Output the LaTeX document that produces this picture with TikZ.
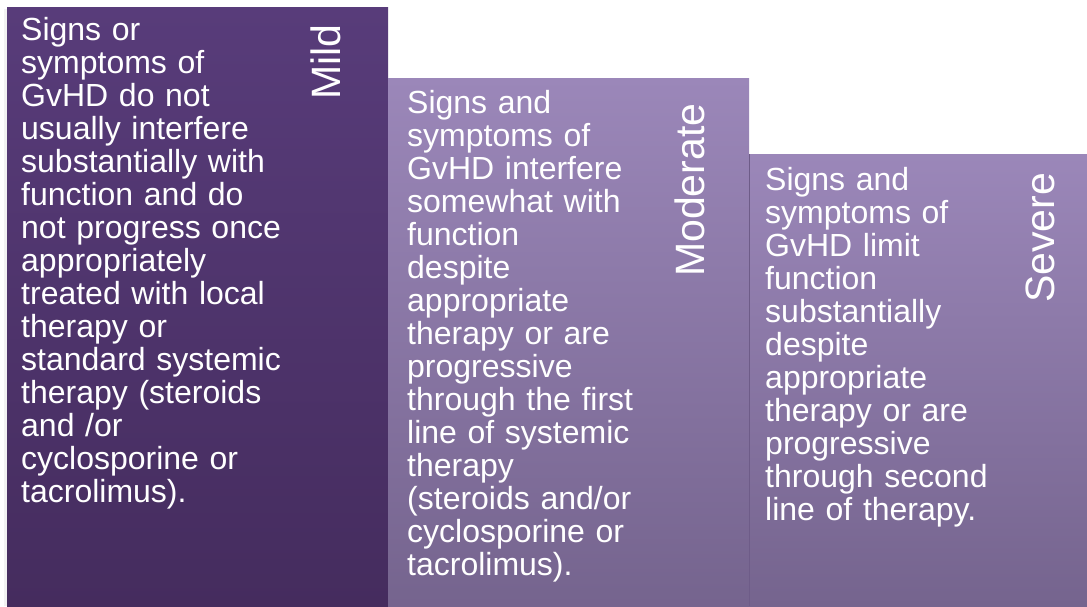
\documentclass[tikz,border=0pt]{standalone}
\usepackage{fontspec}
\setmainfont{Liberation Sans}
\usepackage{tikz}

\definecolor{mildtop}{HTML}{583C7A}
\definecolor{mildbot}{HTML}{452C5E}
\definecolor{gradetop}{HTML}{9B87B9}
\definecolor{gradebot}{HTML}{75648E}
\definecolor{edgeline}{HTML}{6E5C88}

\begin{document}
\begin{tikzpicture}[x=1pt,y=-1pt,
  body/.style={anchor=base west,inner sep=0pt,text=white,text width=320pt,
    align=left,font=\fontsize{32}{33}\selectfont},
  grade/.style={anchor=base west,inner sep=0pt,text=white,rotate=90,
    font=\fontsize{41}{48}\selectfont}]
\useasboundingbox (0,0) rectangle (1087,606);
% the three columns
\fill[black!5] (4,9) rectangle (7,606);
\shade[top color=mildtop,bottom color=mildbot] (7,7) rectangle (388,606);
\shade[top color=gradetop,bottom color=gradebot] (388,78) rectangle (749,606);
\shade[top color=gradetop,bottom color=gradebot] (749,154) rectangle (1087,606);
\draw[edgeline,line width=0.8pt] (749,154) -- (749,606);
% mild
\node[body] (mildtext) at (21,40) {Signs or\\ symptoms of\\ GvHD do not\\ usually interfere\\
  substantially with\\ function and do\\ not progress once\\ appropriately\\
  treated with local\\ therapy or\\ standard systemic\\ therapy (steroids\\
  and /or\\ cyclosporine or\\ tacrolimus).};
\node[grade] (mild) at (340,100) {Mild};
% moderate
\node[body] (moderatetext) at (407,113) {Signs and\\ symptoms of\\ GvHD interfere\\
  somewhat with\\ function\\ despite\\ appropriate\\ therapy or are\\ progressive\\
  through the first\\ line of systemic\\ therapy\\ (steroids and/or\\
  cyclosporine or\\ tacrolimus).};
\node[grade] (moderate) at (704,277) {Moderate};
% severe
\node[body] (severetext) at (765,190) {Signs and\\ symptoms of\\ GvHD limit\\ function\\
  substantially\\ despite\\ appropriate\\ therapy or are\\ progressive\\
  through second\\ line of therapy.};
\node[grade] (severe) at (1054,303) {Severe};
\end{tikzpicture}
\end{document}
